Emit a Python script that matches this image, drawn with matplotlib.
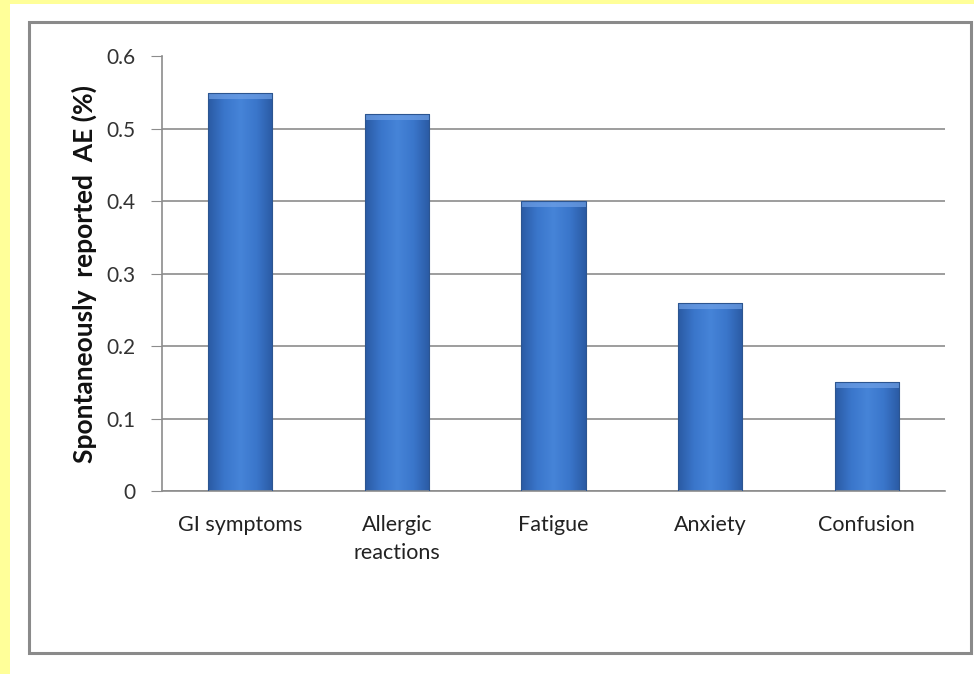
import matplotlib
matplotlib.use("Agg")
import matplotlib.pyplot as plt
import numpy as np
from matplotlib.patches import Rectangle
from matplotlib.colors import LinearSegmentedColormap

categories = ["GI symptoms", "Allergic\nreactions", "Fatigue", "Anxiety", "Confusion"]
values = [0.55, 0.52, 0.40, 0.26, 0.15]
yticks = [0, 0.1, 0.2, 0.3, 0.4, 0.5, 0.6]
ylabel = "Spontaneously  reported  AE (%)"

plt.rcParams["font.family"] = ["Lato", "DejaVu Sans"]

W, H = 974, 674
fig = plt.figure(figsize=(W / 100, H / 100), dpi=100)
fig.patch.set_facecolor("#FFFF99")

# white panel and its grey frame
fig.patches.append(Rectangle((10 / W, 0), 1 - 10 / W, 1 - 4 / H, transform=fig.transFigure,
                             facecolor="white", edgecolor="none", zorder=0))
fig.patches.append(Rectangle((29 / W, 1 - 653 / H), (971 - 29) / W, (653 - 22) / H,
                             transform=fig.transFigure, facecolor="white",
                             edgecolor="#8a8a8a", linewidth=2.2, zorder=1))

left, right, top, bottom = 162, 945, 56.5, 491
ax = fig.add_axes([left / W, 1 - bottom / H, (right - left) / W, (bottom - top) / H])
ax.set_facecolor("none")
ax.set_zorder(2)

x = np.arange(len(categories))
width = 0.41
ax.set_xlim(-0.5, len(categories) - 0.5)
ax.set_ylim(0, 0.6)

cmap = LinearSegmentedColormap.from_list(
    "bar", ["#2a5aa3", "#3a76cb", "#4684d8", "#3a76cb", "#2a5aa3"])
grad = np.linspace(0, 1, 256).reshape(1, -1)

for xi, v in zip(x, values):
    x0 = xi - width / 2
    rect = Rectangle((x0, 0), width, v, facecolor="none", edgecolor="#2c5590",
                     linewidth=0.8, zorder=3)
    ax.add_patch(rect)
    im = ax.imshow(grad, extent=(x0, x0 + width, 0, v), aspect="auto", cmap=cmap,
                   zorder=2.5, interpolation="bilinear")
    im.set_clip_path(rect)
    # bevelled top cap
    ax.add_patch(Rectangle((x0, v - 0.008), width, 0.008, facecolor="#6fa0e6",
                           edgecolor="none", alpha=0.7, zorder=2.8))

ax.set_yticks(yticks)
ax.set_yticklabels(["0" if t == 0 else f"{t:.1f}" for t in yticks])
ax.yaxis.grid(True, color="#8c8c8c", linewidth=1.2)
ax.set_axisbelow(True)
for s in ["top", "right"]:
    ax.spines[s].set_visible(False)
ax.spines["left"].set_color("#8c8c8c")
ax.spines["bottom"].set_color("#8c8c8c")
ax.spines["left"].set_linewidth(1.2)
ax.spines["bottom"].set_linewidth(1.2)
ax.tick_params(axis="y", length=8, color="#8c8c8c", labelsize=15, pad=11, labelcolor="#333333")
ax.tick_params(axis="x", length=0, labelsize=15.5, pad=17, labelcolor="#222222")
ax.set_xticks(x)
ax.set_xticklabels(categories, linespacing=1.55)
ax.set_ylabel(ylabel, fontsize=19, fontweight="bold", color="#111111", labelpad=7)

fig.savefig("out.png", dpi=100, facecolor=fig.get_facecolor())
